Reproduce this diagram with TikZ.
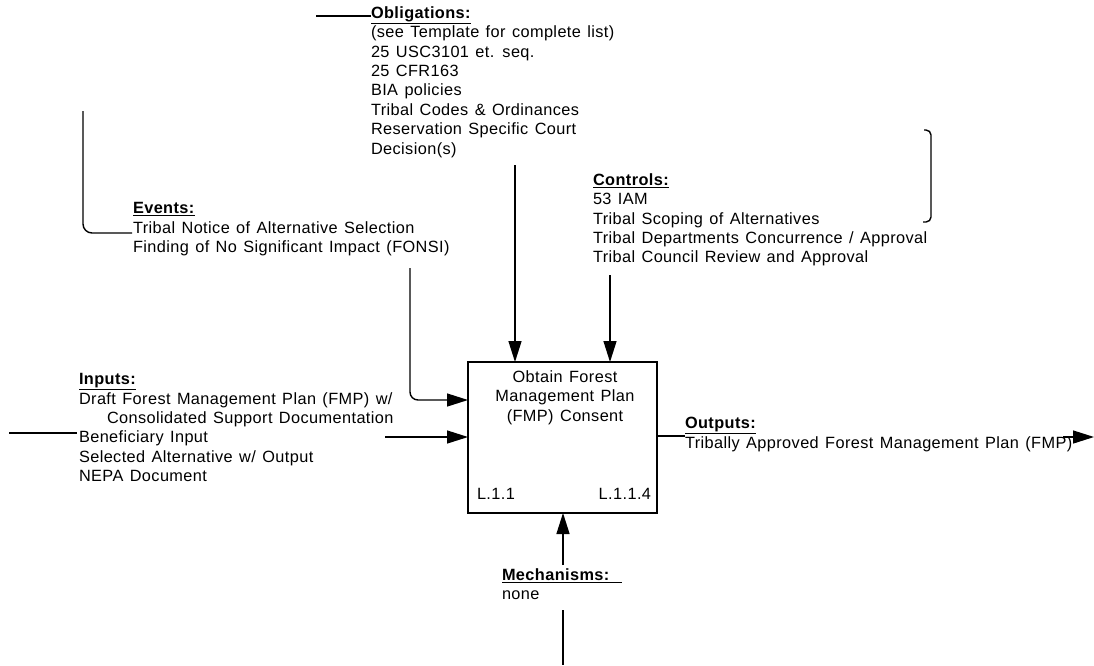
\documentclass[tikz,border=0pt]{standalone}
\usepackage{fontspec}
\setmainfont{Liberation Sans}[LetterSpace=2.5,WordSpace=1.3]
\usetikzlibrary{arrows.meta,calc}
\newcommand\lblfont{\fontsize{16.3}{19.4}\selectfont}
\newcommand\hd[1]{\underline{\textbf{#1}}}
\begin{document}
\begin{tikzpicture}[x=1pt,y=-1pt,
  every node/.style={inner sep=0pt, outer sep=0pt},
  txt/.style={anchor=north west, align=left, font=\lblfont,
    execute at begin node={\rule{0pt}{13.6pt}}},
  wire/.style={line width=1.4pt, black},
  arr/.style={wire, -{Triangle[length=21pt,width=13pt]}},
  actbox/.style={draw, line width=1.9pt, minimum width=189pt, minimum height=151pt}]
\useasboundingbox (0,0) rectangle (1094,665);

% activity box
\node[actbox] (act) at (562.5,437.5) {};
\node[anchor=north, align=center, font=\lblfont,
  execute at begin node={\rule{0pt}{13.6pt}}] (title) at (565,370.5)
  {Obtain Forest\\Management Plan\\(FMP) Consent};
\node[anchor=west, font=\lblfont] (lnode) at (477,494) {L.1.1};
\node[anchor=east, font=\lblfont] (lnum) at (651,494) {L.1.1.4};

% label blocks
\node[txt] (obl) at (371,6.5) {\hd{Obligations:}\\(see Template for complete list)\\25 USC3101 et. seq.\\25 CFR163\\BIA policies\\Tribal Codes \& Ordinances\\Reservation Specific Court\\Decision(s)};
\node[txt] (ev) at (133,202.5) {\hd{Events:}\\Tribal Notice of Alternative Selection\\Finding of No Significant Impact (FONSI)};
\node[txt] (ctl) at (593,173.5) {\hd{Controls:}\\53 IAM\\Tribal Scoping of Alternatives\\Tribal Departments Concurrence / Approval\\Tribal Council Review and Approval};
\node[txt] (inp) at (79,373.5) {\hd{Inputs:}\\Draft Forest Management Plan (FMP) w/\\\hspace{28pt}Consolidated Support Documentation\\Beneficiary Input\\Selected Alternative w/ Output\\NEPA Document};
\node[txt] (out) at (685,417.5) {\hd{Outputs:}\\Tribally Approved Forest Management Plan (FMP)};
\node[txt] (mech) at (502,568.5) {\hd{Mechanisms:\hspace{12pt}}\\none};

% connector end points
\coordinate (oblL) at (316,16);
\coordinate (oblA) at (515,165);
\coordinate (ctlA) at (610,275);
\coordinate (evA) at (410,268);
\coordinate (evY) at (0,400);
\coordinate (evTop) at (83,111);
\coordinate (evL) at (132,233);
\coordinate (inA) at (385,437);
\coordinate (inL1) at (9,433);
\coordinate (inL2) at (77,433);
\coordinate (outY) at (0,436);
\coordinate (oA) at (1063,437);
\coordinate (oB) at (1094,437);
\coordinate (mA) at (563,565);
\coordinate (mB) at (563,610);
\coordinate (mC) at (563,665);
\coordinate (brT) at (924,130);
\coordinate (brB) at (923,222);

% connectors
\draw[wire] (oblL) -- (obl.west |- oblL);
\draw[arr] (oblA) -- (oblA |- act.north);
\draw[arr] (ctlA) -- (ctlA |- act.north);
\draw[arr, rounded corners=8pt] (evA) |- (act.west |- evY);
\draw[wire, rounded corners=9pt] (evTop) |- (evL);
\draw[arr] (inA) -- (inA -| act.west);
\draw[wire] (inL1) -- (inL2);
\draw[wire] (act.east |- outY) -- (out.west |- outY);
\draw[arr] (oA) -- (oB);
\draw[arr] (mA) -- (mA |- act.south);
\draw[wire] (mB) -- (mC);
\draw[wire, rounded corners=5pt] (brT) -- (brT -| 931,0) -- (brB -| 931,0) -- (brB);
\end{tikzpicture}
\end{document}
